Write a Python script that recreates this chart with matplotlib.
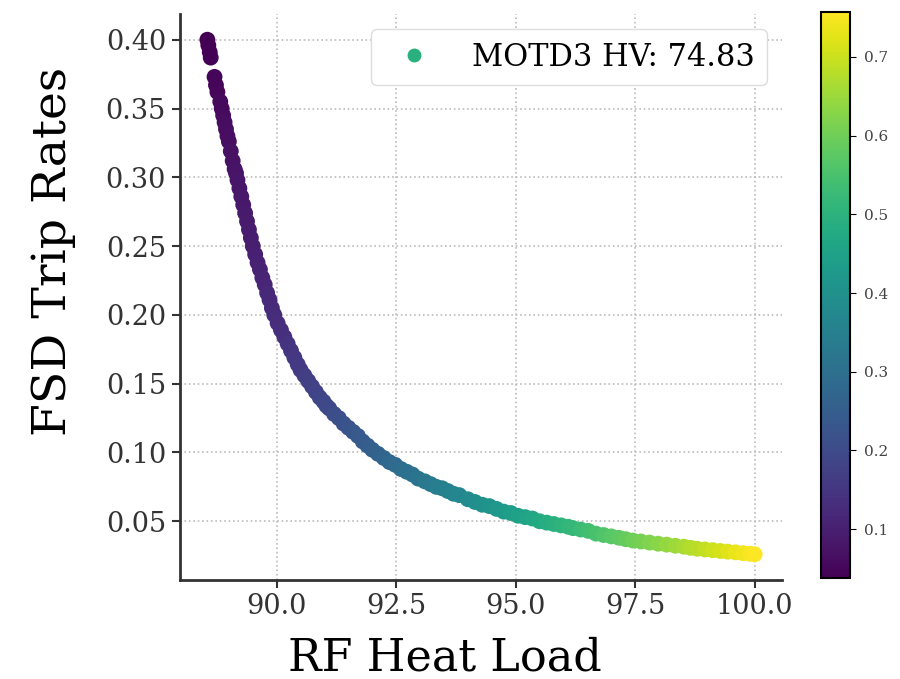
import matplotlib
matplotlib.use("Agg")
import matplotlib.pyplot as plt
from matplotlib.lines import Line2D

# Data
rf_heat_load = [
    88.55, 88.57, 88.60, 88.62, 88.70, 88.73, 88.76, 88.82, 88.85,
    88.88, 88.91, 88.94, 88.97, 89.00, 89.04, 89.08, 89.12, 89.15,
    89.18, 89.22, 89.26, 89.30, 89.34, 89.38, 89.42, 89.46, 89.50,
    89.55, 89.60, 89.65, 89.70, 89.75, 89.80, 89.85, 89.90, 89.95,
    90.02, 90.09, 90.16, 90.23, 90.30, 90.37, 90.44, 90.50,
    90.58, 90.66, 90.74, 90.82, 90.90, 90.98, 91.04, 91.10,
    91.20, 91.30, 91.40, 91.50, 91.60, 91.70, 91.80, 91.90, 92.00,
    92.12, 92.24, 92.36, 92.48, 92.60, 92.72, 92.84, 92.96, 93.10,
    93.22, 93.34, 93.46, 93.58, 93.70, 93.82, 94.00,
    94.15, 94.30, 94.45, 94.60, 94.75, 94.90, 95.05,
    95.20, 95.35, 95.50, 95.65, 95.80, 95.95, 96.10, 96.20,
    96.36, 96.52, 96.68, 96.84, 97.00, 97.16, 97.30, 97.45,
    97.62, 97.80, 97.98, 98.16, 98.34, 98.52, 98.66, 98.80,
    98.96, 99.12, 99.28, 99.44, 99.60, 99.76, 99.90, 100.00]
fsd_trip_rates = [
    0.400, 0.396, 0.391, 0.387, 0.373, 0.367, 0.362, 0.355, 0.350,
    0.345, 0.340, 0.335, 0.330, 0.326, 0.319, 0.312, 0.306, 0.303,
    0.298, 0.292, 0.286, 0.280, 0.274, 0.268, 0.262, 0.256, 0.250,
    0.244, 0.238, 0.233, 0.227, 0.222, 0.216, 0.211, 0.205, 0.200,
    0.194, 0.189, 0.184, 0.179, 0.174, 0.169, 0.164, 0.160,
    0.156, 0.152, 0.148, 0.144, 0.140, 0.137, 0.134, 0.132,
    0.128, 0.125, 0.121, 0.118, 0.115, 0.112, 0.108, 0.105, 0.102,
    0.099, 0.096, 0.093, 0.091, 0.088, 0.086, 0.084, 0.081, 0.079,
    0.077, 0.075, 0.074, 0.072, 0.070, 0.069, 0.066,
    0.064, 0.062, 0.061, 0.059, 0.057, 0.056, 0.054,
    0.053, 0.052, 0.050, 0.049, 0.048, 0.047, 0.046, 0.045,
    0.044, 0.043, 0.041, 0.040, 0.039, 0.038, 0.037, 0.036,
    0.0353, 0.0345, 0.0337, 0.0330, 0.0322, 0.0315, 0.0307, 0.0300,
    0.0295, 0.0290, 0.0284, 0.0279, 0.0274, 0.0268, 0.0264, 0.0260]
color_values = [
    0.038, 0.039, 0.041, 0.042, 0.047, 0.049, 0.051, 0.055, 0.057,
    0.059, 0.061, 0.062, 0.064, 0.066, 0.069, 0.071, 0.074, 0.076,
    0.078, 0.080, 0.083, 0.085, 0.088, 0.090, 0.093, 0.095, 0.098,
    0.101, 0.104, 0.107, 0.110, 0.113, 0.117, 0.120, 0.123, 0.126,
    0.130, 0.135, 0.139, 0.144, 0.148, 0.152, 0.157, 0.160,
    0.165, 0.171, 0.176, 0.181, 0.186, 0.191, 0.194, 0.198,
    0.204, 0.211, 0.217, 0.223, 0.230, 0.236, 0.242, 0.248, 0.255,
    0.262, 0.270, 0.277, 0.285, 0.292, 0.300, 0.307, 0.315, 0.324,
    0.331, 0.339, 0.346, 0.354, 0.361, 0.369, 0.380,
    0.390, 0.399, 0.409, 0.418, 0.427, 0.437, 0.446,
    0.456, 0.465, 0.474, 0.484, 0.493, 0.503, 0.512, 0.518,
    0.528, 0.539, 0.549, 0.559, 0.569, 0.579, 0.587, 0.597,
    0.608, 0.619, 0.630, 0.641, 0.653, 0.664, 0.673, 0.682,
    0.692, 0.702, 0.712, 0.722, 0.732, 0.742, 0.750, 0.757]
legend_label = "MOTD3 HV: 74.83"
x_ticks = [90.0, 92.5, 95.0, 97.5, 100.0]
y_ticks = [0.05, 0.10, 0.15, 0.20, 0.25, 0.30, 0.35, 0.40]
cbar_ticks = [0.1, 0.2, 0.3, 0.4, 0.5, 0.6, 0.7]

plt.rcParams['font.family'] = ['DejaVu Serif']

fig = plt.figure(figsize=(9, 6.79), dpi=100)
ax = fig.add_axes([180/900, 1 - 580/679, (782-180)/900, (580-14)/679])
cax = fig.add_axes([821/900, 1 - 578/679, 29/900, (578-12)/679])

sc = ax.scatter(rf_heat_load, fsd_trip_rates, c=color_values, cmap='viridis',
                s=130, vmin=min(color_values), vmax=max(color_values),
                zorder=3, linewidths=0)

ax.set_xticks(x_ticks)
ax.set_yticks(y_ticks)
ax.set_xticklabels([f"{v:.1f}" for v in x_ticks])
ax.set_yticklabels([f"{v:.2f}" for v in y_ticks])
ax.tick_params(axis='both', labelsize=19.5, labelcolor='#333333', color='#333333',
               length=6, width=1.5)
ax.tick_params(axis='y', pad=4)
ax.grid(True, linestyle=':', color='#bbbbbb', linewidth=1.2)
ax.set_axisbelow(True)
for side in ['top', 'right']:
    ax.spines[side].set_visible(False)
for side in ['left', 'bottom']:
    ax.spines[side].set_color('#333333')
    ax.spines[side].set_linewidth(2)

ax.set_xlabel("RF Heat Load", fontsize=32)
ax.set_ylabel("FSD Trip Rates", fontsize=34)
ax.xaxis.set_label_coords(0.44, -0.1)
ax.yaxis.set_label_coords(-0.172, 0.58)

proxy = Line2D([], [], marker='o', linestyle='', markersize=9,
               markerfacecolor='#2ab07f', markeredgecolor='#2ab07f')
leg = ax.legend([proxy], [legend_label], loc='upper right', fontsize=22,
                handletextpad=0.9, borderpad=0.4, framealpha=1,
                edgecolor='#dddddd', fancybox=True)

cb = fig.colorbar(sc, cax=cax)
cb.set_ticks(cbar_ticks)
cb.ax.tick_params(labelsize=11, labelcolor='#444444', length=4, pad=6)
cb.outline.set_linewidth(1.5)

fig.savefig("out.png", dpi=100)
